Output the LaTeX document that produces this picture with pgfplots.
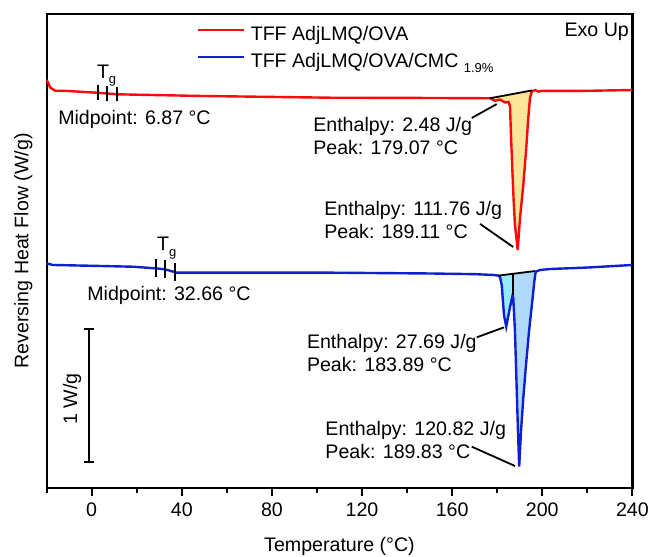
\documentclass[border=0pt]{standalone}
\usepackage{fontspec}
\setmainfont{Liberation Sans}
\usepackage{pgfplots}
\pgfplotsset{compat=1.18}
\usetikzlibrary{arrows.meta}
\definecolor{curvered}{RGB}{250,10,10}
\definecolor{curveblue}{RGB}{16,32,208}
\definecolor{fillyellow}{RGB}{253,228,155}
\definecolor{fillcyan}{RGB}{150,235,250}
\definecolor{fillblue}{RGB}{176,216,248}
\newcommand{\sub}[1]{\raisebox{-2.7pt}{\fontsize{6.5}{7}\selectfont #1}}
\begin{document}
\begin{tikzpicture}
\fontsize{9.8}{11.5}\selectfont
\begin{axis}[
  scale only axis,
  width=292.9pt, height=237pt,
  xmin=-20, xmax=240,
  ymin=0, ymax=3.511,
  xtick={0,40,...,240},
  minor xtick={-20,20,60,100,140,180,220},
  ytick=\empty,
  xtick pos=lower,
  tick align=outside,
  major tick length=4pt,
  minor tick length=2.5pt,
  every tick/.style={black, line width=1pt},
  axis line style={line width=1.1pt},
  clip=false,
  /pgf/number format/assume math mode=true,
  font=\fontsize{9.8}{11.5}\selectfont,
  xlabel={Temperature (°C)},
  ylabel={Reversing Heat Flow (W/g)},
  xlabel style={at={(axis description cs:0.5,0)}, anchor=base, yshift=-31.8pt},
  ylabel style={at={([xshift=-9.15pt]axis description cs:0,0.5)}, anchor=base},
  legend style={draw=none, fill=none, at={(axis cs:46.3,3.43)}, anchor=north west,
                inner sep=0pt, row sep=3.5pt, column sep=3pt,
                nodes={inner sep=0pt, text height=7.5pt, text depth=2.5pt}},
  legend cell align=left,
  legend image code/.code={\draw[#1, line width=1.2pt] (0pt,2.8pt) -- (23pt,2.8pt);},
]
% integration areas
\addplot[fill=fillyellow, draw=none, forget plot] coordinates {
  (176.8,2.887) (179.0,2.868) (181.2,2.878) (183.4,2.856) (185.0,2.859)
  (185.66,2.830) (186.11,2.615) (186.68,2.368) (187.31,2.121) (187.88,1.948)
  (189.1,1.763) (190.1,1.998) (191.57,2.244) (192.77,2.491) (193.78,2.739)
  (194.54,2.887) (195.3,2.936) (195.5,2.945)} -- cycle;
\addplot[fill=fillcyan, draw=none, forget plot] coordinates {
  (180.5,1.573) (181.2,1.565) (182.0,1.504) (183.0,1.281) (184.0,1.195)
  (185.6,1.333) (186.86,1.430) (186.86,1.586)} -- cycle;
\addplot[fill=fillblue, draw=none, forget plot] coordinates {
  (186.86,1.586) (186.86,1.430) (187.13,1.407) (187.88,1.158) (188.33,0.911)
  (188.77,0.667) (189.22,0.417) (189.75,0.158) (190.55,0.417) (191.57,0.667)
  (192.77,0.911) (194.1,1.158) (195.7,1.405) (196.45,1.528) (196.8,1.570)
  (196.8,1.607)} -- cycle;
% curves
\addplot[curvered, line width=1.2pt] coordinates {
  (-20,3.022) (-19.3,3.002) (-18.5,2.968) (-16.3,2.943) (-11.1,2.941)
  (2.2,2.928) (7,2.922) (11.7,2.916) (48.1,2.904) (105.8,2.891) (150,2.889)
  (176.8,2.887) (179.0,2.868) (181.2,2.878) (183.4,2.856) (185.0,2.859)
  (185.66,2.830) (186.11,2.615) (186.68,2.368) (187.31,2.121) (187.88,1.948)
  (189.1,1.763) (190.1,1.998) (191.57,2.244) (192.77,2.491) (193.78,2.739)
  (194.54,2.887) (195.3,2.936) (196.76,2.948) (198.2,2.936) (199.7,2.941)
  (220,2.942) (240,2.948)};
\addlegendentry{TFF AdjLMQ/OVA}
\addplot[curveblue, line width=1.2pt] coordinates {
  (-20,1.664) (-17.2,1.652) (0,1.646) (18.3,1.639) (28.4,1.627) (32.5,1.620)
  (36.1,1.603) (37.7,1.595) (60,1.595) (105.8,1.595) (150,1.589) (170,1.584)
  (178.3,1.578) (180.5,1.573) (181.2,1.565) (182.0,1.504) (183.0,1.281)
  (184.0,1.195) (185.6,1.333) (186.86,1.430) (187.13,1.407) (187.88,1.158)
  (188.33,0.911) (188.77,0.667) (189.22,0.417) (189.75,0.158) (190.55,0.417)
  (191.57,0.667) (192.77,0.911) (194.1,1.158) (195.7,1.405) (196.45,1.528)
  (197.07,1.602) (199,1.615) (203.4,1.622) (220,1.633) (240,1.652)};
\addlegendentry{TFF AdjLMQ/OVA/CMC \sub{1.9\%}}
% baselines of the integrations
\addplot[black, line width=0.9pt, forget plot] coordinates {(176.8,2.887) (195.5,2.945)};
\addplot[black, line width=0.9pt, forget plot] coordinates {(180.5,1.573) (196.8,1.607)};
\addplot[black, line width=0.9pt, forget plot] coordinates {(186.86,1.586) (186.86,1.430)};
% Tg markers
\addplot[black, only marks, mark=|, mark size=3.6pt, mark options={line width=1pt}, forget plot]
  coordinates {(2.66,2.93) (6.92,2.923) (11.1,2.917)};
\addplot[black, only marks, mark=|, mark size=4.5pt, mark options={line width=1pt}, forget plot]
  coordinates {(28.4,1.627) (32.5,1.620) (36.9,1.598)};
% leader lines
\addplot[black, line width=0.9pt, forget plot] coordinates {(168.7,2.741) (179.8,2.844)};
\addplot[black, line width=0.9pt, forget plot] coordinates {(172.4,1.956) (187.1,1.785)};
\addplot[black, line width=0.9pt, forget plot] coordinates {(170.9,1.116) (183.0,1.190)};
\addplot[black, line width=0.9pt, forget plot] coordinates {(168.7,0.306) (187.9,0.163)};
% scale bar
\addplot[black, line width=1pt, {Bar[width=5pt]}-{Bar[width=5pt]}, forget plot]
  coordinates {(-1.2,0.185) (-1.2,1.185)};
% annotations
\node[anchor=base west, inner sep=0pt] at (axis cs:2.2,3.035) {T\sub{g}};
\node[anchor=base west, inner sep=0pt] at (axis cs:28.9,1.756) {T\sub{g}};
\node[anchor=west, inner sep=0pt] at (axis cs:-15.0,2.733) {Midpoint: 6.87 °C};
\node[anchor=west, inner sep=0pt] at (axis cs:-2.1,1.430) {Midpoint: 32.66 °C};
\node[anchor=west, inner sep=0pt, align=left] at (axis cs:98.2,2.604)
  {Enthalpy: 2.48 J/g\\Peak: 179.07 °C};
\node[anchor=west, inner sep=0pt, align=left] at (axis cs:103.1,1.985)
  {Enthalpy: 111.76 J/g\\Peak: 189.11 °C};
\node[anchor=west, inner sep=0pt, align=left] at (axis cs:95.4,1.0)
  {Enthalpy: 27.69 J/g\\Peak: 183.89 °C};
\node[anchor=west, inner sep=0pt, align=left] at (axis cs:103.6,0.356)
  {Enthalpy: 120.82 J/g\\Peak: 189.83 °C};
\node[anchor=center, inner sep=0pt, rotate=90] at (axis cs:-8.7,0.659) {1 W/g};
\node[anchor=east, inner sep=0pt] at (axis cs:238.6,3.378) {Exo Up};
\end{axis}
\pgfresetboundingbox
\path ([xshift=-23.3pt,yshift=-34pt]current axis.south west)
  rectangle ([xshift=9.3pt,yshift=7pt]current axis.north east);
\end{tikzpicture}
\end{document}
